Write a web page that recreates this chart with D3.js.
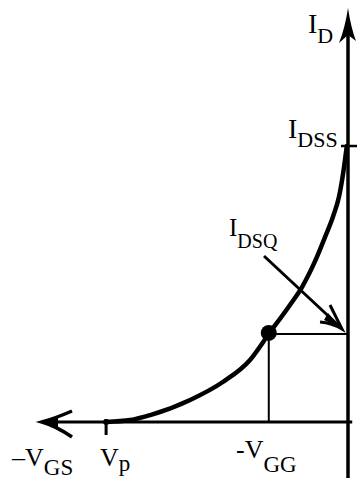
<!DOCTYPE html>
<html>
<head>
<meta charset="utf-8">
<script src="https://cdn.jsdelivr.net/npm/d3@7"></script>
<style>
  body { margin: 0; background: #fff; }
  text { font-family: "Liberation Serif", "DejaVu Serif", serif; fill: #000; }
</style>
</head>
<body>
<div id="chart"></div>
<script>
// transfer curve (VGS in V, ID in mA)
const curveVgs = [-4.0, -3.6, -3.27, -2.61, -2.07, -1.62, -1.31, -0.96, -0.76, -0.55, -0.38, -0.25, -0.15, -0.08, -0.02];
const curveId = [0, 0.07, 0.25, 0.80, 1.45, 2.25, 3.19, 4.24, 4.89, 5.80, 6.70, 7.43, 8.15, 9.02, 10];

const vp = -4.0;
const vgg = -1.31;
const idsq = 3.19;
const idss = 10;

const width = 357, height = 482;

const svg = d3.select("#chart")
    .append("svg")
    .attr("width", width)
    .attr("height", height);

const x = d3.scaleLinear().domain([-5.06, 0]).range([42, 348]);
const y = d3.scaleLinear().domain([0, 15]).range([422, 8]);

const x0 = x(0), y0 = y(0);

// axes
svg.append("line")
    .attr("x1", x(-5.06) + 2).attr("x2", x(0.07))
    .attr("y1", y0).attr("y2", y0)
    .attr("stroke", "#000").attr("stroke-width", 3);

svg.append("line")
    .attr("x1", x0).attr("x2", x0)
    .attr("y1", y(14.5)).attr("y2", y(-2.03))
    .attr("stroke", "#000").attr("stroke-width", 3.5);

// left arrow head
const lx = x(-5.06);
svg.append("path")
    .attr("d", `M${lx + 30},${y0 - 11} Q${lx + 14},${y0 - 4} ${lx},${y0} Q${lx + 14},${y0 + 4} ${lx + 30},${y0 + 15}`)
    .attr("fill", "none").attr("stroke", "#000").attr("stroke-width", 3.5);
svg.append("path")
    .attr("d", `M${lx},${y0} L${lx + 16},${y0 - 5} L${lx + 16},${y0 + 5} Z`)
    .attr("fill", "#000");

// top arrow head
const ty = y(15);
svg.append("path")
    .attr("d", `M${x0},${ty} Q${x0 - 3},${ty + 20} ${x0 - 9},${ty + 35} L${x0},${ty + 27} L${x0 + 8},${ty + 33} Q${x0 + 3},${ty + 20} ${x0},${ty} Z`)
    .attr("fill", "#000");

// IDSS tick
svg.append("line")
    .attr("x1", x0 - 7).attr("x2", width)
    .attr("y1", y(idss)).attr("y2", y(idss))
    .attr("stroke", "#000").attr("stroke-width", 2.5);

// Vp tick
svg.append("line")
    .attr("x1", x(vp)).attr("x2", x(vp))
    .attr("y1", y0 - 3).attr("y2", y0 + 13)
    .attr("stroke", "#000").attr("stroke-width", 3);
svg.append("circle")
    .attr("cx", x(vp)).attr("cy", y0).attr("r", 3)
    .attr("fill", "#000");

// Q point lines
svg.append("line")
    .attr("x1", x(vgg)).attr("x2", x(vgg))
    .attr("y1", y(idsq)).attr("y2", y0)
    .attr("stroke", "#000").attr("stroke-width", 2);
svg.append("line")
    .attr("x1", x(vgg)).attr("x2", x0)
    .attr("y1", y(idsq)).attr("y2", y(idsq))
    .attr("stroke", "#000").attr("stroke-width", 2);

// transfer curve
const pts = curveVgs.map((v, i) => [v, curveId[i]]);
const line = d3.line()
    .x(d => x(d[0]))
    .y(d => y(d[1]))
    .curve(d3.curveMonotoneX);

svg.append("path")
    .datum(pts)
    .attr("d", line)
    .attr("fill", "none")
    .attr("stroke", "#000")
    .attr("stroke-width", 4.5)
    .attr("stroke-linecap", "round");

// Q point
svg.append("circle")
    .attr("cx", x(vgg)).attr("cy", y(idsq) - 1).attr("r", 8)
    .attr("fill", "#000");

// IDSQ pointer arrow
const ax1 = 264, ay1 = 256, ax2 = 342, ay2 = 329;
svg.append("line")
    .attr("x1", ax1).attr("y1", ay1).attr("x2", ax2 - 4).attr("y2", ay2 - 4)
    .attr("stroke", "#000").attr("stroke-width", 3);
svg.append("path")
    .attr("d", `M${ax2 - 12},${ay2 - 24} Q${ax2 - 5},${ay2 - 10} ${ax2},${ay2} Q${ax2 - 10},${ay2 - 6} ${ax2 - 22},${ay2 - 7}`)
    .attr("fill", "none").attr("stroke", "#000").attr("stroke-width", 3);
svg.append("path")
    .attr("d", `M${ax2},${ay2} L${ax2 - 14},${ay2 - 16} L${ax2 - 18},${ay2 - 9} Z`)
    .attr("fill", "#000");

// labels with subscripts
function label(px, py, main, sub, mainSize, subSize, drop) {
    const t = svg.append("text").attr("x", px).attr("y", py);
    t.append("tspan").attr("font-size", mainSize).text(main);
    t.append("tspan").attr("font-size", subSize).attr("dy", drop).text(sub);
}

label(308, 33, "I", "D", 28, 22, 10);
label(288, 138, "I", "DSS", 28, 22, 9);
label(229, 236, "I", "DSQ", 25, 20, 12);
label(12, 466, "\u2013V", "GS", 26, 23, 9);
label(100, 466, "V", "p", 26, 23, 5);
label(236, 458, "-V", "GG", 26, 23, 14);
</script>
</body>
</html>
